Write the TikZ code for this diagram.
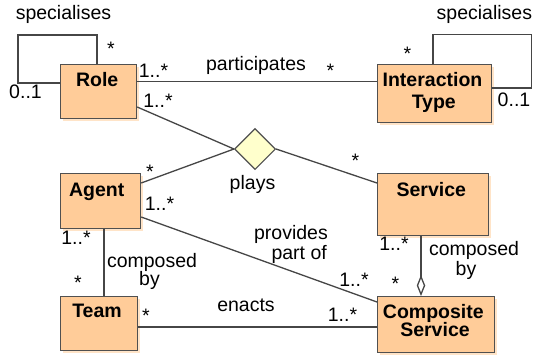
\documentclass[tikz,border=0pt]{standalone}
\usepackage{fontspec}
\setmainfont{Liberation Sans}
\usetikzlibrary{shapes.geometric,shadows,arrows.meta}
\definecolor{boxc}{RGB}{255,204,153}
\definecolor{shadowc}{RGB}{255,228,200}
\definecolor{bordc}{RGB}{80,80,80}
\definecolor{linec}{RGB}{70,70,70}
\definecolor{assocc}{RGB}{255,255,204}
\newcommand{\lblfont}{\fontsize{19.5}{22}\selectfont}
\tikzset{
  cls/.style={draw=bordc, fill=boxc, line width=1.2pt, anchor=north west, inner sep=0pt,
    general shadow={fill=shadowc, shadow xshift=2.2pt, shadow yshift=-2.2pt}},
  assoc/.style={diamond, draw=bordc, fill=assocc, line width=1.1pt, inner sep=0pt,
    minimum width=41pt, minimum height=41pt},
  conn/.style={draw=linec, line width=1.3pt},
  lab/.style={font=\lblfont, inner sep=0pt, anchor=base},
  ttl/.style={font=\lblfont\bfseries, inner sep=0pt, anchor=base},
}
\begin{document}
\begin{tikzpicture}[x=1pt,y=-1pt]
\useasboundingbox (0,0) rectangle (533,354);
\fill[white] (0,0) rectangle (533,354);
% classes
\node[cls, minimum width=76pt, minimum height=54pt] (role) at (60,64) {};
\node[cls, minimum width=114pt, minimum height=58pt] (inter) at (377,64) {};
\node[cls, minimum width=80pt, minimum height=55pt] (agent) at (60,173) {};
\node[cls, minimum width=111pt, minimum height=62pt] (service) at (377,173) {};
\node[cls, minimum width=77pt, minimum height=54pt] (team) at (60,296) {};
\node[cls, minimum width=117pt, minimum height=56pt] (comp) at (377,296) {};
\node[assoc] (plays) at (255,149) {};
% titles
\node[ttl] (roleT) at (97.2,86) {Role};
\node[ttl] (interT1) at (432.5,86) {Interaction};
\node[ttl] (interT2) at (433.8,108.6) {Type};
\node[ttl] (agentT) at (96.7,196) {Agent};
\node[ttl] (serviceT) at (431.3,196) {Service};
\node[ttl] (teamT) at (97,317.6) {Team};
\node[ttl] (compT1) at (433.3,318) {Composite};
\node[ttl] (compT2) at (435,336.7) {Service};
% loop corners
\coordinate (rl1) at (18,83);
\coordinate (rl2) at (18,35);
\coordinate (rl3) at (97,35);
\coordinate (il1) at (433,34.5);
\coordinate (il2) at (531.5,34.5);
\coordinate (il3) at (531.5,88);
% connectors
\draw[conn] (role.west |- rl1) -- (rl1) -- (rl2) -- (rl3) -- (role.north -| rl3);
\draw[conn] (inter.north -| il1) -- (il1) -- (il2) -- (il3) -- (inter.east |- il3);
\draw[conn] (role.east |- 0,81.5) -- (inter.west |- 0,81.5);
\draw[conn] (role.east |- 0,107) -- (plays.west);
\draw[conn] (agent.east |- 0,183) -- (plays.west);
\draw[conn] (plays.east) -- (service.west |- 0,183);
\draw[conn] (agent.east |- 0,217) -- (comp.west |- 0,302);
\draw[conn] (agent.south -| 104,0) -- (team.north -| 104,0);
\draw[conn] (team.east |- 0,327) -- (comp.west |- 0,327);
\draw[conn, -{Diamond[open, length=21pt, width=8.5pt]}] (service.south -| 421,0) -- (comp.north -| 421,0);
% labels
\node[lab] (l1) at (63.5,19.5) {specialises};
\node[lab, anchor=base west] (l2) at (436.5,19.5) {specialises};
\node[lab] (l3) at (111,55.3) {*};
\node[lab] (l4) at (25.5,98) {0..1};
\node[lab] (l5) at (153.5,77.5) {1..*};
\node[lab] (l6) at (256,70) {participates};
\node[lab] (l7) at (330.5,77) {*};
\node[lab] (l8) at (158,107.5) {1..*};
\node[lab] (l9) at (407.5,60.3) {*};
\node[lab] (l10) at (514,106) {0..1};
\node[lab] (l11) at (150,178.6) {*};
\node[lab] (l12) at (252.5,189.5) {plays};
\node[lab] (l13) at (355.5,167) {*};
\node[lab] (l14) at (159.5,210.7) {1..*};
\node[lab] (l15) at (291,239.5) {provides};
\node[lab] (l16) at (299.2,259.5) {part of};
\node[lab] (l17) at (354,286.7) {1..*};
\node[lab] (l18) at (395.5,290.3) {*};
\node[lab] (l19) at (76,244) {1..*};
\node[lab] (l20) at (78,289.6) {*};
\node[lab] (l21) at (152,267) {composed};
\node[lab] (l22) at (149.5,285.3) {by};
\node[lab] (l23) at (146,322.6) {*};
\node[lab] (l24) at (246,311) {enacts};
\node[lab] (l25) at (342.5,321.7) {1..*};
\node[lab] (l26) at (394,250) {1..*};
\node[lab] (l27) at (474,255.3) {composed};
\node[lab] (l28) at (466,275.3) {by};
\end{tikzpicture}
\end{document}
